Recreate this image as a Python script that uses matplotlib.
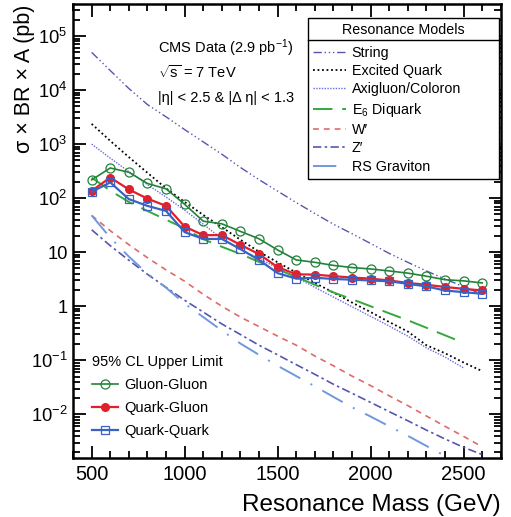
import matplotlib
matplotlib.use("Agg")
import matplotlib.pyplot as plt
from matplotlib.lines import Line2D
from matplotlib.ticker import LogLocator, NullFormatter, MultipleLocator

plt.rcParams["font.family"] = ["Liberation Sans", "DejaVu Sans"]
plt.rcParams["mathtext.fontset"] = "custom"
plt.rcParams["mathtext.rm"] = "Liberation Sans"
plt.rcParams["mathtext.it"] = "Liberation Sans:italic"
plt.rcParams["mathtext.default"] = "regular"

# ---- data ----
mass = [500, 600, 700, 800, 900, 1000, 1100, 1200, 1300, 1400, 1500,
        1600, 1700, 1800, 1900, 2000, 2100, 2200, 2300, 2400, 2500, 2600]

# 95% CL upper limits (pb)
gluon_gluon = [218, 362, 302, 187, 149, 77, 37.5, 33.5, 24.3, 17.7, 11.0,
               7.2, 6.5, 5.7, 5.2, 4.9, 4.5, 4.1, 3.6, 3.1, 2.95, 2.7]
quark_gluon = [137, 241, 145, 98, 72, 29.8, 20.7, 20.7, 13.7, 9.2, 5.3,
               3.9, 3.85, 3.6, 3.4, 3.24, 3.0, 2.7, 2.5, 2.27, 2.1, 1.96]
quark_quark = [131, 196, 96, 72, 58, 23.5, 17.6, 17.6, 11.4, 7.2, 4.1,
               3.24, 3.37, 3.2, 3.1, 3.0, 2.9, 2.6, 2.33, 1.96, 1.82, 1.7]

# model cross sections (pb)
string_xs = [5.0e4, 2.3e4, 1.07e4, 5.4e3, 3.2e3, 1.86e3, 1.1e3, 650, 370, 220, 135,
             83, 52, 33, 22, 14.5, 9.5, 6.5, 4.5, 3.2, 2.3, 1.66]
excited_quark = [2370, 1150, 575, 295, 152, 85, 49, 29, 17, 10.2, 6.5,
                 4.2, 2.7, 1.8, 1.17, 0.78, 0.51, 0.34, 0.19, 0.135, 0.091, 0.063]
axigluon_mass = [500, 600, 700, 800, 900, 1000, 1100, 1200, 1300, 1400, 1500,
                 1600, 1700, 1800, 1900, 2000, 2100, 2200, 2300, 2400, 2500]
axigluon = [1000, 550, 310, 178, 105, 60, 33, 17.8, 11.2, 7.6, 5.1,
            3.4, 2.24, 1.48, 0.98, 0.65, 0.43, 0.28, 0.17, 0.115, 0.072]
e6_mass = axigluon_mass
e6_diquark = [240, 138, 85, 58, 40, 27.5, 17.4, 12.6, 9.3, 6.6, 4.8,
              3.5, 2.5, 1.8, 1.35, 1.0, 0.74, 0.55, 0.40, 0.29, 0.21]
w_prime = [48, 25, 13.8, 7.9, 4.7, 2.9, 1.66, 1.0, 0.63, 0.42, 0.28,
           0.19, 0.12, 0.079, 0.051, 0.034, 0.022, 0.0145, 0.0093, 0.006, 0.0039, 0.0025]
z_prime = [26, 13.2, 7.1, 3.9, 2.24, 1.29, 0.78, 0.47, 0.30, 0.19, 0.126,
           0.083, 0.055, 0.036, 0.0245, 0.0166, 0.0112, 0.0076, 0.0051, 0.0035, 0.00245, 0.0018]
rs_mass = axigluon_mass
rs_graviton = [48, 18.6, 8.3, 4.0, 2.2, 1.12, 0.63, 0.355, 0.204, 0.126, 0.079,
               0.051, 0.033, 0.021, 0.0135, 0.0091, 0.006, 0.004, 0.0026, 0.0017, 0.00112]

ytick_vals = [1e-2, 1e-1, 1, 10, 1e2, 1e3, 1e4, 1e5]
ytick_labels = ["10$^{-2}$", "10$^{-1}$", "1", "10", "10$^{2}$", "10$^{3}$", "10$^{4}$", "10$^{5}$"]
xtick_vals = [500, 1000, 1500, 2000, 2500]

_GG = "#23823a"
_QG = "#e0202a"
_QQ = "#3a62c4"
_SLATE_BLUE = "#5656b0"

fig = plt.figure(figsize=(5.11, 5.17), dpi=100)
ax = fig.add_axes([0.143, 0.114, 0.837, 0.878])

# model curves
ax.plot(mass, string_xs, color=_SLATE_BLUE, lw=1.0, ls=(0, (6, 2, 1, 2, 1, 2, 1, 2)), label="String")
ax.plot(mass, excited_quark, color="black", lw=1.3, ls=(0, (1, 1.5)), label="Excited Quark")
ax.plot(axigluon_mass, axigluon, color="#6a6ae6", lw=1.0, ls=(0, (1, 1)), label="Axigluon/Coloron")
ax.plot(e6_mass, e6_diquark, color="#35a83c", lw=1.4, ls=(0, (10, 5)), label="E$_6$ Diquark")
ax.plot(mass, w_prime, color="#e06a6a", lw=1.2, ls=(0, (3.5, 3)), label="W′")
ax.plot(mass, z_prime, color=_SLATE_BLUE, lw=1.2, ls=(0, (5, 2, 1.5, 2)), label="Z′")
ax.plot(rs_mass, rs_graviton, color="#7098dc", lw=1.4, ls=(0, (12, 6, 1, 6)), label="RS Graviton")
model_handles, model_labels = ax.get_legend_handles_labels()

# limits
h_gg, = ax.plot(mass, gluon_gluon, color=_GG, lw=1.2, marker="o", ms=6.5,
                mfc="none", mec=_GG, mew=0.9, label="Gluon-Gluon")
h_qg, = ax.plot(mass, quark_gluon, color=_QG, lw=1.6, marker="o", ms=5.5,
                mfc=_QG, mec=_QG, label="Quark-Gluon")
h_qq, = ax.plot(mass, quark_quark, color=_QQ, lw=1.6, marker="s", ms=6,
                mfc="none", mec=_QQ, mew=0.9, label="Quark-Quark")

ax.set_yscale("log")
ax.set_xlim(400, 2700)
ax.set_ylim(1.55e-3, 3.9e5)
ax.set_yticks(ytick_vals)
ax.set_yticklabels(ytick_labels)
ax.yaxis.set_minor_locator(LogLocator(base=10, subs=range(2, 10), numticks=20))
ax.yaxis.set_minor_formatter(NullFormatter())
ax.set_xticks(xtick_vals)
ax.xaxis.set_minor_locator(MultipleLocator(100))

ax.tick_params(which="both", direction="in", top=True, right=True, width=1.3)
ax.tick_params(axis="x", labelsize=14.5, pad=5)
ax.tick_params(axis="y", labelsize=13.2, pad=4)
ax.tick_params(which="major", length=9)
ax.tick_params(which="minor", length=5)
for sp in ax.spines.values():
    sp.set_linewidth(1.8)

ax.set_xlabel("Resonance Mass (GeV)", fontsize=17.5, loc="right", labelpad=7)
ax.set_ylabel("σ × BR × A (pb)", fontsize=15.5, loc="top")
ax.yaxis.set_label_coords(-0.09, 1.0)

ax.text(0.198, 0.904, "CMS Data (2.9 pb$^{-1}$)", transform=ax.transAxes, fontsize=10.5, va="center")
ax.text(0.198, 0.849, "$\\sqrt{s}$ = 7 TeV", transform=ax.transAxes, fontsize=10.5, va="center")
ax.text(0.198, 0.794, "|η| < 2.5 & |Δ η| < 1.3", transform=ax.transAxes, fontsize=10.5, va="center")

leg_models = ax.legend(model_handles, model_labels, loc="upper left", mode="expand",
                       bbox_to_anchor=(0.549, 0.6, 0.446, 0.3685), borderaxespad=0,
                       title="Resonance Models", title_fontsize=10.3, fontsize=10.3,
                       frameon=True, fancybox=False, edgecolor="black", framealpha=1,
                       handlelength=2.3, handletextpad=0.4, labelspacing=0.3,
                       borderpad=0.35)
leg_models.get_frame().set_linewidth(1.0)
leg_models._legend_box.sep = 6
ax.add_artist(leg_models)

leg_limits = ax.legend([h_gg, h_qg, h_qq], ["Gluon-Gluon", "Quark-Gluon", "Quark-Quark"],
                       loc="lower left", bbox_to_anchor=(0.03, 0.032), borderaxespad=0,
                       title="95% CL Upper Limit", title_fontsize=10.5, fontsize=10.5,
                       frameon=False, alignment="left", numpoints=1,
                       handlelength=1.8, handletextpad=0.45, labelspacing=0.6)

# line under the legend title
fig.canvas.draw()
renderer = fig.canvas.get_renderer()
lb = leg_models.get_frame().get_window_extent(renderer)
tb = leg_models.get_title().get_window_extent(renderer)
inv = fig.transFigure.inverted()
(x0, y0) = inv.transform((lb.x0, tb.y0 - 3))
(x1, _) = inv.transform((lb.x1, tb.y0 - 3))
fig.add_artist(Line2D([x0, x1], [y0, y0], transform=fig.transFigure, color="black", lw=1.0))

fig.savefig("out.png", dpi=100)
